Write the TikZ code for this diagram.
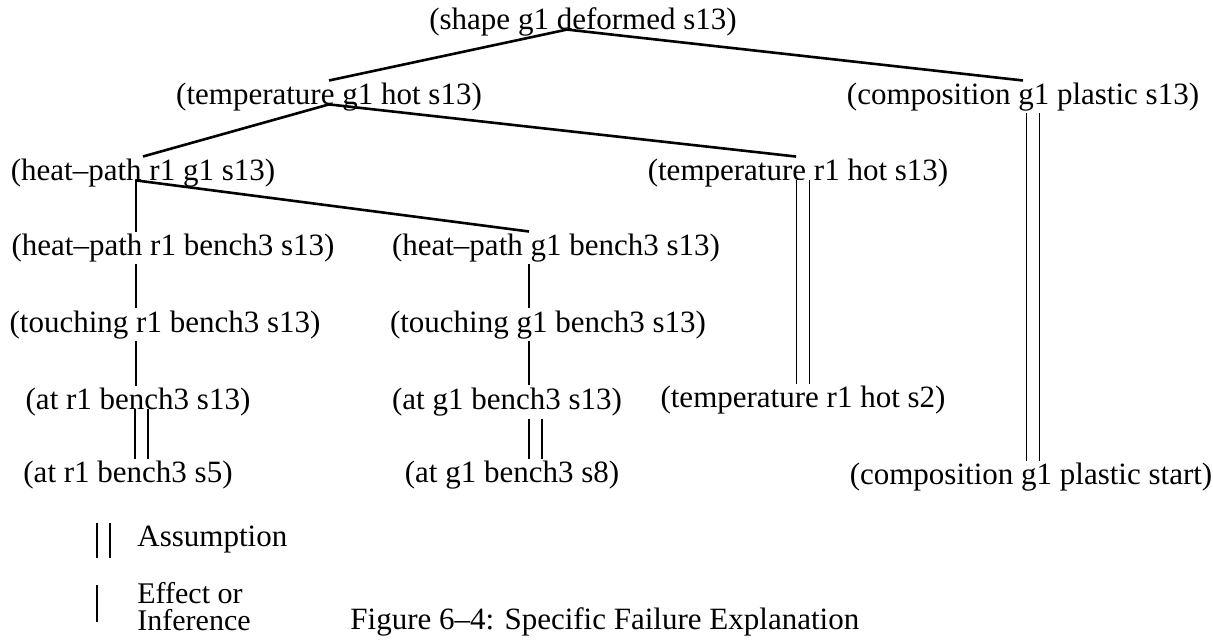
\documentclass[tikz,border=0pt]{standalone}
\usepackage{fontspec}
\setmainfont{Liberation Serif}

\begin{document}
\begin{tikzpicture}[x=0.5pt, y=-0.5pt,
  fact/.style={inner xsep=0pt, inner ysep=1pt, font=\fontsize{15.5}{18}\selectfont},
  infer/.style={line width=1pt},
  link/.style={line width=1.3pt},
  assume/.style={double, double distance=5.7pt, line width=0.8pt}]

\useasboundingbox (0,0) rectangle (1213,640);

% columns of the vertical links
\coordinate (col_r1) at (136,0);
\coordinate (col_r1d) at (141.5,0);
\coordinate (col_g1) at (529,0);
\coordinate (col_g1d) at (535.5,0);
\coordinate (col_tr1) at (796,0);
\coordinate (col_tr1d) at (803,0);
\coordinate (col_cpd) at (1033,0);

\node[fact] (shape_g1) at (583,22) {(shape g1 deformed s13)};
\node[fact] (temp_g1) at (329,97) {(temperature g1 hot s13)};
\node[fact] (comp_g1) at (1023,97) {(composition g1 plastic s13)};
\node[fact] (hp_r1_g1) at (143,173) {(heat--path r1 g1 s13)};
\node[fact] (temp_r1) at (798,173) {(temperature r1 hot s13)};
\node[fact] (hp_r1_b3) at (173,248) {(heat--path r1 bench3 s13)};
\node[fact] (hp_g1_b3) at (556,248) {(heat--path g1 bench3 s13)};
\node[fact] (touch_r1) at (165,325) {(touching r1 bench3 s13)};
\node[fact] (touch_g1) at (548,325) {(touching g1 bench3 s13)};
\node[fact] (at_r1) at (138,402) {(at r1 bench3 s13)};
\node[fact] (at_g1) at (507,402) {(at g1 bench3 s13)};
\node[fact] (temp_r1_s2) at (803,400) {(temperature r1 hot s2)};
\node[fact] (at_r1_s5) at (128,475) {(at r1 bench3 s5)};
\node[fact] (at_g1_s8) at (512,475) {(at g1 bench3 s8)};
\node[fact] (comp_start) at (1031,477) {(composition g1 plastic start)};

% legend
\node[fact, anchor=west] (leg_assume) at (137,540) {Assumption};
\node[fact, anchor=west, align=left, inner ysep=0pt, font=\fontsize{15}{13.5}\selectfont] (leg_effect) at (137,607) {Effect or\\Inference};
\node[fact, anchor=west] (caption) at (350,622) {Figure 6--4: Specific Failure Explanation};

\draw[assume] (103.5,523) -- (103.5,558);
\draw[infer] (97,585) -- (97,622);

% the tree
\draw[link] ([xshift=-8pt]shape_g1.base) -- (temp_g1.north);
\draw[link] ([xshift=-8pt]shape_g1.base) -- (comp_g1.north);
\draw[link] (temp_g1.base) -- (hp_r1_g1.north);
\draw[link] (temp_g1.base) -- (temp_r1.north -| col_tr1);
\draw[link] (hp_r1_g1.base -| col_r1) -- (hp_g1_b3.north -| col_g1);
\draw[infer] (hp_r1_g1.base -| col_r1) -- (hp_r1_b3.north -| col_r1);
\draw[infer] (hp_r1_b3.south -| col_r1) -- (touch_r1.north -| col_r1);
\draw[infer] (touch_r1.south -| col_r1) -- (at_r1.north -| col_r1);
\draw[infer] (hp_g1_b3.south -| col_g1) -- (touch_g1.north -| col_g1);
\draw[infer] (touch_g1.south -| col_g1) -- (at_g1.north -| col_g1);
\draw[assume] (at_r1.base -| col_r1d) -- (at_r1_s5.north -| col_r1d);
\draw[assume] (at_g1.south -| col_g1d) -- (at_g1_s8.north -| col_g1d);
\draw[assume] (temp_r1.base -| col_tr1d) -- (temp_r1_s2.north -| col_tr1d);
\draw[assume] (comp_g1.south -| col_cpd) -- (comp_start.north -| col_cpd);
\end{tikzpicture}
\end{document}
